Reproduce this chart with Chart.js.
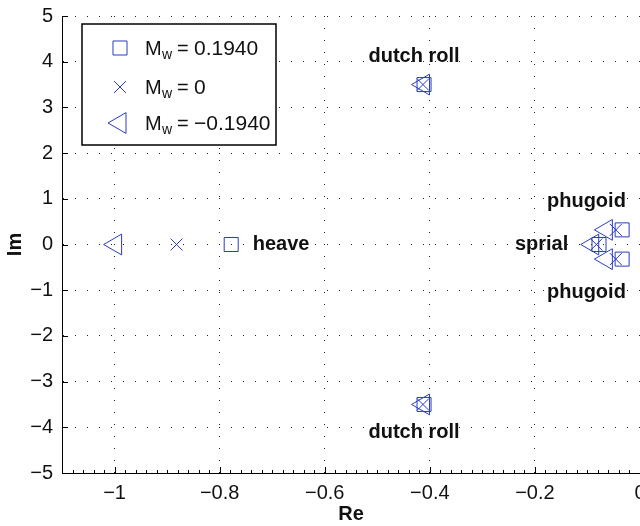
<!DOCTYPE html>
<html><head><meta charset="utf-8">
<script src="https://cdn.jsdelivr.net/npm/chart.js@4/dist/chart.umd.min.js"></script>
<style>html,body{margin:0;padding:0;background:#fff;}#wrap{width:640px;height:526px;}</style>
</head><body><div id="wrap"><canvas id="c" width="640" height="526"></canvas></div>
<script>
// ---- data ----
const seriesValues = ['0.1940', '0', '\u22120.1940'];
const squareRe = [-0.778, -0.411, -0.411, -0.034, -0.034, -0.078];
const squareIm = [0, 3.5, -3.5, 0.32, -0.32, 0];
const crossRe = [-0.882, -0.413, -0.413, -0.046, -0.046, -0.083];
const crossIm = [0, 3.5, -3.5, 0.32, -0.32, 0];
const triRe = [-0.998, -0.412, -0.412, -0.064, -0.064, -0.090];
const triIm = [0, 3.5, -3.5, 0.32, -0.32, 0];
const xTicks = [-1, -0.8, -0.6, -0.4, -0.2, 0];
const yTicks = [-5, -4, -3, -2, -1, 0, 1, 2, 3, 4, 5];
const xMinorStep = 0.02;
const notes = ['dutch roll', 'dutch roll', 'heave', 'sprial', 'phugoid', 'phugoid'];
const noteRe = [-0.43, -0.43, -0.737, -0.238, -0.177, -0.177];
const noteIm = [4.12, -4.12, 0, 0, 0.94, -1.06];
const noteAlign = ['center', 'center', 'left', 'left', 'left', 'left'];

const FAM = '"Liberation Sans", Arial, Helvetica, sans-serif';
const BLUE = '#2a3cc0';
Chart.defaults.font.family = FAM;

const toPts = (xs, ys) => xs.map((v, i) => ({x: v, y: ys[i]}));
const fmt = v => v === 0 ? '0' : (v < 0 ? '\u2212' : '') + String(Math.abs(v));

const markerStyles = [
  {pointStyle: 'rect', rotation: 0, radius: 9.9},
  {pointStyle: 'crossRot', rotation: 0, radius: 8.5},
  {pointStyle: 'triangle', rotation: -90, radius: 12}
];

const overlay = {
  id: 'overlay',
  afterDraw(chart) {
    const {ctx, chartArea: a, scales: {x, y}} = chart;
    ctx.save();
    ctx.strokeStyle = '#000';
    ctx.lineWidth = 1;
    ctx.beginPath();
    const kMin = Math.ceil(x.min / xMinorStep - 1e-6), kMax = Math.floor(x.max / xMinorStep + 1e-6);
    for (let k = kMin; k <= kMax; k++) {
      const px = Math.round(x.getPixelForValue(k * xMinorStep)) + 0.5;
      ctx.moveTo(px, a.bottom); ctx.lineTo(px, a.bottom - 3);
    }
    xTicks.forEach(v => {
      const px = Math.round(x.getPixelForValue(v)) + 0.5;
      ctx.moveTo(px, a.bottom); ctx.lineTo(px, a.bottom - 6);
    });
    yTicks.forEach(v => {
      const py = Math.round(y.getPixelForValue(v)) + 0.5;
      ctx.moveTo(a.left, py); ctx.lineTo(a.left + 6, py);
    });
    ctx.stroke();

    // annotations
    ctx.fillStyle = '#111';
    ctx.font = 'bold 20px ' + FAM;
    ctx.textBaseline = 'middle';
    notes.forEach((t, i) => {
      ctx.textAlign = noteAlign[i];
      ctx.fillText(t, x.getPixelForValue(noteRe[i]), y.getPixelForValue(noteIm[i]));
    });

    // legend
    const lx = a.left + 20, ly = a.top + 8, lw = 194, lh = 121;
    ctx.fillStyle = '#fff';
    ctx.fillRect(lx, ly, lw, lh);
    ctx.strokeStyle = '#000';
    ctx.lineWidth = 1.5;
    ctx.strokeRect(lx, ly, lw, lh);
    const rows = [ly + 24, ly + 63, ly + 99];
    seriesValues.forEach((val, i) => {
      const ry = rows[i];
      ctx.strokeStyle = BLUE;
      ctx.fillStyle = 'rgba(0,0,0,0)';
      ctx.lineWidth = 1;
      Chart.helpers.drawPoint(ctx, {pointStyle: markerStyles[i].pointStyle, rotation: markerStyles[i].rotation, radius: markerStyles[i].radius, borderWidth: 1}, lx + 38, ry);
      ctx.fillStyle = '#111';
      ctx.textAlign = 'left';
      ctx.textBaseline = 'alphabetic';
      ctx.font = '20px ' + FAM;
      ctx.fillText('M', lx + 63, ry + 7);
      ctx.font = '14px ' + FAM;
      ctx.fillText('w', lx + 80, ry + 11);
      ctx.font = '20px ' + FAM;
      ctx.fillText('=', lx + 95, ry + 7);
      ctx.font = '21px ' + FAM;
      ctx.fillText(val, lx + 112, ry + 7);
    });
    ctx.restore();
  }
};

const mk = (label, xs, ys, i) => ({
  label, data: toPts(xs, ys),
  pointStyle: markerStyles[i].pointStyle,
  rotation: markerStyles[i].rotation,
  pointRadius: markerStyles[i].radius,
  pointHoverRadius: markerStyles[i].radius,
  borderColor: BLUE, backgroundColor: 'rgba(0,0,0,0)',
  pointBorderColor: BLUE, pointBackgroundColor: 'rgba(0,0,0,0)',
  borderWidth: 1, pointBorderWidth: 1, showLine: false, clip: false
});

new Chart(document.getElementById('c'), {
  type: 'scatter',
  data: {
    datasets: [
      mk('Mw = ' + seriesValues[0], squareRe, squareIm, 0),
      mk('Mw = ' + seriesValues[1], crossRe, crossIm, 1),
      mk('Mw = ' + seriesValues[2], triRe, triIm, 2)
    ]
  },
  options: {
    responsive: false, animation: false, devicePixelRatio: 1,
    layout: {autoPadding: false, padding: {top: 16, right: 0, left: 0, bottom: 0}},
    plugins: {legend: {display: false}, tooltip: {enabled: false}},
    scales: {
      x: {
        type: 'linear', position: 'bottom', min: -1.1, max: 0,
        afterBuildTicks: s => { s.ticks = xTicks.map(v => ({value: v})); },
        afterFit: s => { s.height = 53; s.paddingLeft = 0; s.paddingRight = 0; },
        ticks: {color: '#111', font: {size: 20}, padding: 8, maxRotation: 0, autoSkip: false, callback: v => fmt(v)},
        grid: {color: '#222', lineWidth: 1, drawTicks: false},
        border: {display: true, color: '#000', width: 1, dash: [1, 11]},
        title: {display: true, text: 'Re', color: '#111', font: {size: 20, weight: 'bold'}, padding: {top: 0, bottom: 0}}
      },
      y: {
        type: 'linear', position: 'left', min: -5, max: 5,
        afterBuildTicks: s => { s.ticks = yTicks.map(v => ({value: v})); },
        afterFit: s => { s.width = 62; s.paddingTop = 0; s.paddingBottom = 0; },
        ticks: {color: '#111', font: {size: 20}, padding: 9, autoSkip: false, callback: v => fmt(v)},
        grid: {color: '#222', lineWidth: 1, drawTicks: false},
        border: {display: true, color: '#000', width: 1, dash: [1, 11]},
        title: {display: true, text: 'Im', color: '#111', font: {size: 20, weight: 'bold'}, padding: {top: 3, bottom: 0}}
      }
    }
  },
  plugins: [overlay]
});
</script></body></html>
